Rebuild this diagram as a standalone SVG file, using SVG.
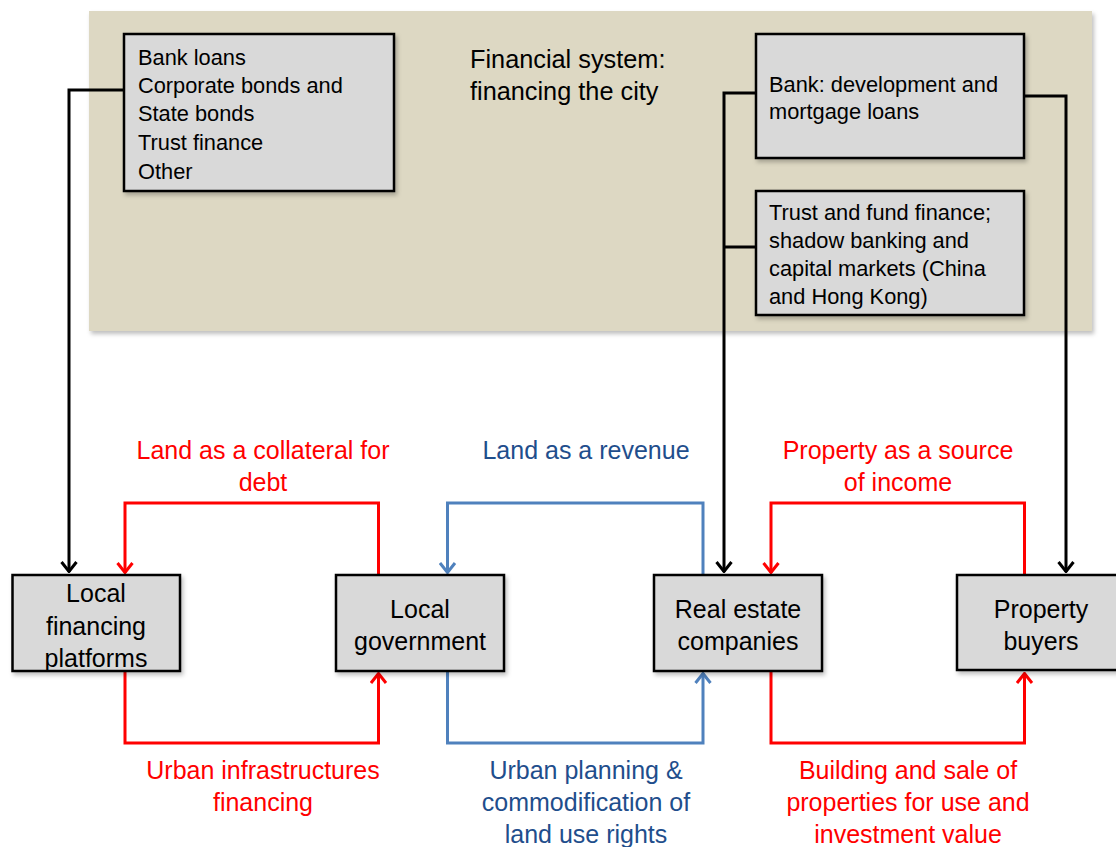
<svg xmlns="http://www.w3.org/2000/svg" width="1116" height="847" viewBox="0 0 1116 847">
<style>
.box{fill:#d9d9d9;stroke:#000;stroke-width:2.5}
.t{font-family:"Liberation Sans",Arial,sans-serif;fill:#000}
.bt{font-size:21.8px}
.nt{font-size:25px;text-anchor:middle}
.lb{font-size:25px;text-anchor:middle}
.red{fill:#ff0000}
.blue{fill:#1f4e8c}
.c{fill:none;stroke-width:3}
.k{stroke:#000}
.r{stroke:#ff0000}
.b{stroke:#4f81bd}
</style>
<defs>
<filter id="sh" x="-5%" y="-5%" width="115%" height="120%">
<feDropShadow dx="2" dy="3" stdDeviation="2" flood-color="#000" flood-opacity="0.25"/>
</filter>
<marker id="ak" markerUnits="userSpaceOnUse" viewBox="0 0 12 18" refX="11" refY="9" markerWidth="12" markerHeight="18" orient="auto"><path d="M1,1.5 L10.5,9 L1,16.5" fill="none" stroke="#000" stroke-width="3"/></marker>
<marker id="ar" markerUnits="userSpaceOnUse" viewBox="0 0 12 18" refX="11" refY="9" markerWidth="12" markerHeight="18" orient="auto"><path d="M1,1.5 L10.5,9 L1,16.5" fill="none" stroke="#ff0000" stroke-width="3"/></marker>
<marker id="ab" markerUnits="userSpaceOnUse" viewBox="0 0 12 18" refX="11" refY="9" markerWidth="12" markerHeight="18" orient="auto"><path d="M1,1.5 L10.5,9 L1,16.5" fill="none" stroke="#4f81bd" stroke-width="3"/></marker>
</defs>
<rect width="1116" height="847" fill="#fff"/>
<g id="financial-system">
<rect x="89" y="11" width="1003" height="320" fill="#ddd8c3" filter="url(#sh)"/>
<text class="t" x="470" y="68" font-size="25.3">Financial system:</text>
<text class="t" x="470" y="100" font-size="25.3">financing the city</text>
</g>
<g id="connectors">
<path class="c k" d="M124,90 H69 V572" marker-end="url(#ak)"/>
<path class="c k" d="M756,93 H724 V572" marker-end="url(#ak)"/>
<path class="c k" d="M756,247 H724"/>
<path class="c k" d="M1024,96 H1066 V572" marker-end="url(#ak)"/>
<path class="c r" d="M378.5,575 V503 H125 V573" marker-end="url(#ar)"/>
<path class="c r" d="M125,671 V743 H378.5 V673" marker-end="url(#ar)"/>
<path class="c b" d="M703,575 V503 H447.5 V573" marker-end="url(#ab)"/>
<path class="c b" d="M447.5,671 V743 H703 V673" marker-end="url(#ab)"/>
<path class="c r" d="M1024.5,575 V503 H771 V573" marker-end="url(#ar)"/>
<path class="c r" d="M771,671 V743 H1024.5 V673" marker-end="url(#ar)"/>
</g>
<g id="sources">
<rect class="box" x="124" y="34" width="270" height="157" filter="url(#sh)"/>
<text class="t bt" x="138" y="65">Bank loans</text>
<text class="t bt" x="138" y="93">Corporate bonds and</text>
<text class="t bt" x="138" y="121">State bonds</text>
<text class="t bt" x="138" y="150">Trust finance</text>
<text class="t bt" x="138" y="179">Other</text>
</g>
<g id="bank">
<rect class="box" x="756" y="34" width="268" height="124" filter="url(#sh)"/>
<text class="t bt" x="769" y="92">Bank: development and</text>
<text class="t bt" x="769" y="119">mortgage loans</text>
</g>
<g id="trust">
<rect class="box" x="756" y="191" width="268" height="124" filter="url(#sh)"/>
<text class="t bt" x="769" y="220">Trust and fund finance;</text>
<text class="t bt" x="769" y="248">shadow banking and</text>
<text class="t bt" x="769" y="276">capital markets (China</text>
<text class="t bt" x="769" y="304">and Hong Kong)</text>
</g>
<g id="lfp">
<rect class="box" x="12.5" y="575" width="167.5" height="96" filter="url(#sh)"/>
<text class="t nt" x="96" y="602">Local</text>
<text class="t nt" x="96" y="635">financing</text>
<text class="t nt" x="96" y="667">platforms</text>
</g>
<g id="local-government">
<rect class="box" x="336" y="575" width="168" height="96" filter="url(#sh)"/>
<text class="t nt" x="420" y="618">Local</text>
<text class="t nt" x="420" y="650">government</text>
</g>
<g id="real-estate">
<rect class="box" x="654" y="575" width="168" height="96" filter="url(#sh)"/>
<text class="t nt" x="738" y="618">Real estate</text>
<text class="t nt" x="738" y="650">companies</text>
</g>
<g id="property-buyers">
<rect class="box" x="957" y="575" width="172" height="95" filter="url(#sh)"/>
<text class="t nt" x="1041" y="618">Property</text>
<text class="t nt" x="1041" y="650">buyers</text>
</g>
<g id="labels">
<text class="t lb red" x="263" y="459">Land as a collateral for</text>
<text class="t lb red" x="263" y="491">debt</text>
<text class="t lb red" x="263" y="779">Urban infrastructures</text>
<text class="t lb red" x="263" y="811">financing</text>
<text class="t lb blue" x="586" y="459">Land as a revenue</text>
<text class="t lb blue" x="586" y="779">Urban planning &amp;</text>
<text class="t lb blue" x="586" y="811">commodification of</text>
<text class="t lb blue" x="586" y="843">land use rights</text>
<text class="t lb red" x="898" y="459">Property as a source</text>
<text class="t lb red" x="898" y="491">of income</text>
<text class="t lb red" x="908" y="779">Building and sale of</text>
<text class="t lb red" x="908" y="811">properties for use and</text>
<text class="t lb red" x="908" y="843">investment value</text>
</g>
</svg>
